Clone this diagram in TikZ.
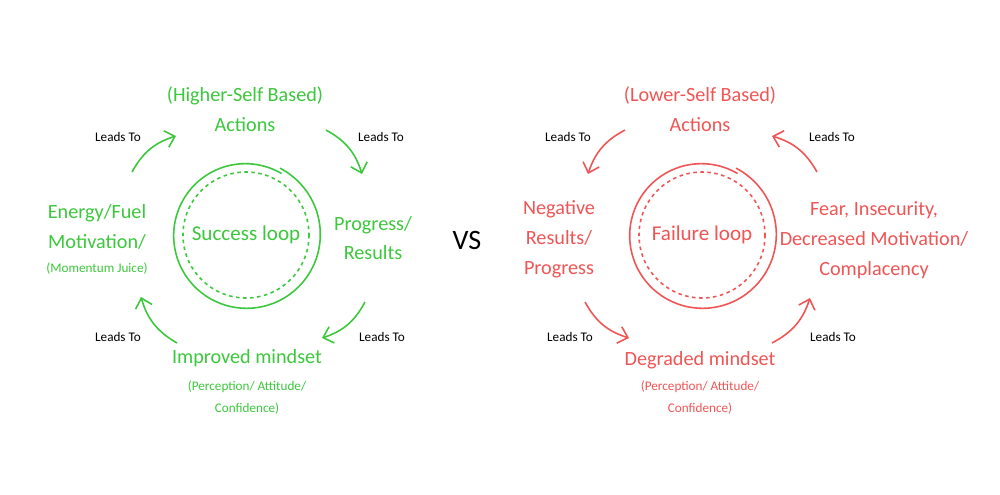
\documentclass[tikz,border=0pt]{standalone}
\usepackage{fontspec}
\setmainfont{Carlito}
\usetikzlibrary{arrows.meta}
\definecolor{gr}{HTML}{3CC83C}
\definecolor{rd}{HTML}{F05555}
\begin{document}
\begin{tikzpicture}[x=0.02cm,y=-0.02cm,
 lbl/.style={font=\fontsize{11.5}{17}\selectfont, align=center, inner sep=0},
 small/.style={font=\fontsize{7.5}{12.5}\selectfont, align=center, inner sep=0},
 leads/.style={font=\fontsize{7.5}{9}\selectfont, inner sep=0, text=black},
 loopname/.style={font=\fontsize{12}{14}\selectfont, inner sep=0},
 arr/.style={line width=0.9pt, -{Straight Barb[length=1.8mm,width=3.4mm]}},
 ring/.style={line width=0.9pt},
 dring/.style={line width=0.9pt, dash pattern=on 2pt off 2pt}]
\useasboundingbox[fill=white] (0,0) rectangle (1000,494);

% ---------- Success loop ----------
\begin{scope}[gr]
\coordinate (sc) at (246,235);
\draw[ring] plot[domain=63:-300, samples=120, smooth] ({246+(75-4*(63-\x)/363)*cos(\x)}, {235-(75-4*(63-\x)/363)*sin(\x)});
\draw[dring] (sc) circle[radius=63];
\node[loopname, text=gr] (sl) at (sc) {Success loop};

\node[lbl, text=gr] (hs) at (245,109) {(Higher-Self Based)\\Actions};
\node[lbl, text=gr] (pr) at (373,238) {Progress/\\Results};
\node[lbl, text=gr] (im) at (247,358) {Improved mindset};
\node[small, text=gr] (ims) at (247,398) {(Perception/ Attitude/\\Confidence)};
\node[lbl, text=gr] (en) at (97,227) {Energy/Fuel\\Motivation/};
\node[small, text=gr] (ens) at (97,269) {(Momentum Juice)};

\coordinate (g1s) at (132,172); \coordinate (g1e) at (176,136);
\coordinate (g2s) at (326,130); \coordinate (g2e) at (362,174);
\coordinate (g3s) at (365,302); \coordinate (g3e) at (322,338);
\coordinate (g4s) at (177,343); \coordinate (g4e) at (141,297);
\draw[arr] (g1s) to[bend left=22] (g1e);
\draw[arr] (g2s) to[bend left=22] (g2e);
\draw[arr] (g3s) to[bend left=22] (g3e);
\draw[arr] (g4s) to[bend left=22] (g4e);
\end{scope}
\node[leads] (l1) at (118,137) {Leads To};
\node[leads] (l2) at (381,137) {Leads To};
\node[leads] (l3) at (118,337) {Leads To};
\node[leads] (l4) at (382,337) {Leads To};

\node[font=\fontsize{16}{18}\selectfont, inner sep=0] (vs) at (467,240) {VS};

% ---------- Failure loop ----------
\begin{scope}[rd]
\coordinate (fc) at (702,235);
\draw[ring] plot[domain=63:-300, samples=120, smooth] ({702+(75-4*(63-\x)/363)*cos(\x)}, {235-(75-4*(63-\x)/363)*sin(\x)});
\draw[dring] (fc) circle[radius=63];
\node[loopname, text=rd] (fl) at (fc) {Failure loop};

\node[lbl, text=rd] (ls) at (700,109) {(Lower-Self Based)\\Actions};
\node[lbl, text=rd] (ng) at (559,239) {Negative\\Results/\\Progress};
\node[lbl, text=rd] (fe) at (874,240) {Fear, Insecurity,\\Decreased Motivation/\\Complacency};
\node[lbl, text=rd] (dg) at (700,360) {Degraded mindset};
\node[small, text=rd] (dgs) at (700,398) {(Perception/ Attitude/\\Confidence)};

\coordinate (r1s) at (625,130); \coordinate (r1e) at (588,174);
\coordinate (r2s) at (585,302); \coordinate (r2e) at (629,338);
\coordinate (r3s) at (772,343); \coordinate (r3e) at (810,298);
\coordinate (r4s) at (817,172); \coordinate (r4e) at (772,136);
\draw[arr] (r1s) to[bend right=22] (r1e);
\draw[arr] (r2s) to[bend right=22] (r2e);
\draw[arr] (r3s) to[bend right=22] (r3e);
\draw[arr] (r4s) to[bend right=22] (r4e);
\end{scope}
\node[leads] (l5) at (568,137) {Leads To};
\node[leads] (l6) at (832,137) {Leads To};
\node[leads] (l7) at (570,337) {Leads To};
\node[leads] (l8) at (833,337) {Leads To};
\end{tikzpicture}
\end{document}
